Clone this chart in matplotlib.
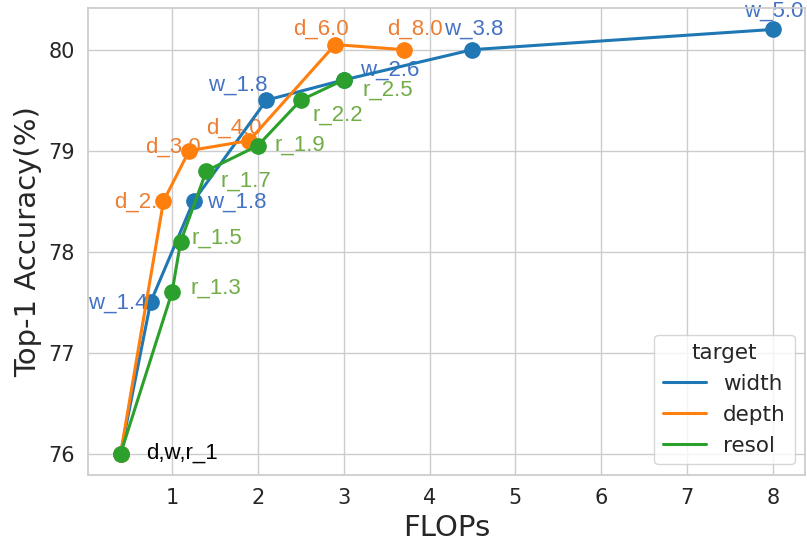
import matplotlib.pyplot as plt
import seaborn as sns
from matplotlib.lines import Line2D

# data
width_flops = [0.4, 0.75, 1.25, 2.1, 3.0, 4.5, 8.0]
width_acc = [76.0, 77.5, 78.5, 79.5, 79.7, 80.0, 80.2]
width_labels = ['', 'w_1.4', 'w_1.8', 'w_1.8', 'w_2.6', 'w_3.8', 'w_5.0']

depth_flops = [0.4, 0.9, 1.2, 1.9, 2.9, 3.7]
depth_acc = [76.0, 78.5, 79.0, 79.1, 80.05, 80.0]
depth_labels = ['', 'd_2.0', 'd_3.0', 'd_4.0', 'd_6.0', 'd_8.0']

resol_flops = [0.4, 1.0, 1.1, 1.4, 2.0, 2.5, 3.0]
resol_acc = [76.0, 77.6, 78.1, 78.8, 79.05, 79.5, 79.7]
resol_labels = ['', 'r_1.3', 'r_1.5', 'r_1.7', 'r_1.9', 'r_2.2', 'r_2.5']

# label offsets in pixels (text centre relative to point)
width_off = [None, (-33, -1), (43, -1), (-29, 15), (46, 10), (1, 20), (1, 18)]
depth_off = [None, (-22, -1), (-16, 3), (-15, 12), (-14, 15), (11, 20)]
resol_off = [None, (44, 4), (36, 3), (39, -10), (42, 0), (37, -15), (44, -10)]

sns.set_theme(style='whitegrid')

fig = plt.figure(figsize=(8.07, 5.49), dpi=100)
ax = fig.add_axes([0.109, 0.135, 0.889, 0.85])

series = [
    ('width', width_flops, width_acc, width_labels, width_off, '#1f77b4', '#4472c4'),
    ('depth', depth_flops, depth_acc, depth_labels, depth_off, '#ff7f0e', '#ed7d31'),
    ('resol', resol_flops, resol_acc, resol_labels, resol_off, '#2ca02c', '#70ad47'),
]

handles = []
for i, (name, xs, ys, labels, offs, col, tcol) in enumerate(series):
    ax.plot(xs, ys, marker='o', color=col, lw=2.2, markersize=11, zorder=3 + i)
    handles.append(Line2D([0], [0], color=col, lw=2.2, label=name))
    for x, y, lab, off in zip(xs, ys, labels, offs):
        if off is None:
            continue
        ax.annotate(lab, (x, y), xytext=off, textcoords='offset pixels',
                    ha='center', va='center', color=tcol, fontsize=16,
                    family='Liberation Sans', zorder=2)

ax.annotate('d,w,r_1', (resol_flops[0], resol_acc[0]), xytext=(26, 0),
            textcoords='offset pixels', ha='left', va='center',
            color='black', fontsize=16, family='Liberation Sans')

ax.set_xticks(range(1, 9))
ax.set_yticks([76, 77, 78, 79, 80])
ax.tick_params(labelsize=15)
ax.set_xlabel('FLOPs', fontsize=21)
ax.set_ylabel('Top-1 Accuracy(%)', fontsize=21)

ax.legend(handles=handles, title='target', loc='lower right',
          fontsize=15.5, title_fontsize=15.5)

fig.savefig('out.png', dpi=100)
